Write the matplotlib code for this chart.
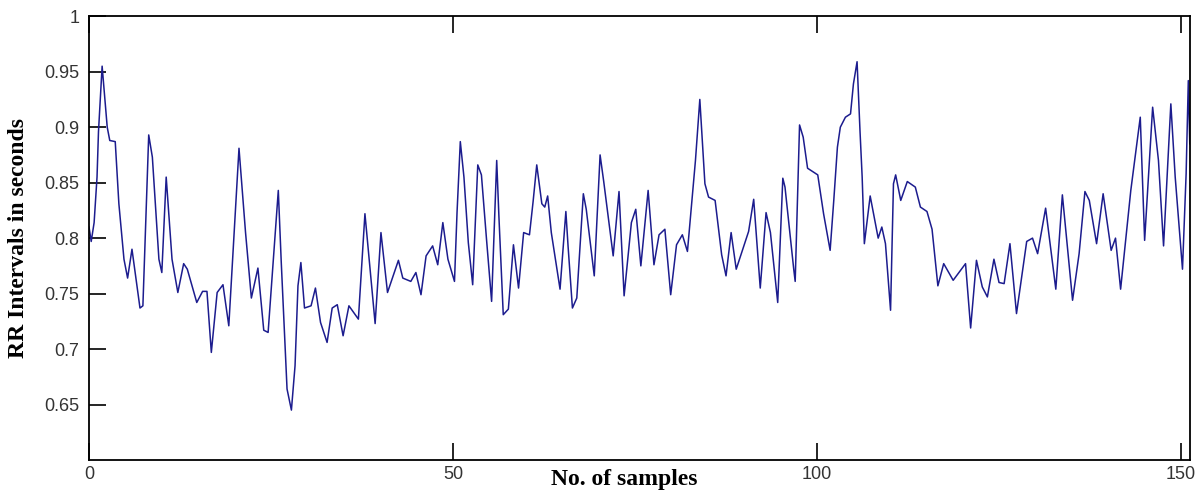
import matplotlib.pyplot as plt

# sample positions and RR interval values (s)
samples = [0, 0.3, 0.7, 1.1, 1.3, 1.8, 2.5, 2.85, 3.6, 4.1, 4.8, 5.3, 5.9, 7.0, 7.4,
           8.2, 8.7, 9.6, 10.0, 10.6, 11.4, 12.2, 13.0, 13.5, 14.8, 15.6, 16.2, 16.8,
           17.6, 18.4, 19.2, 20.6, 21.5, 22.3, 23.2, 24.0, 24.6, 26.0, 26.4, 27.2,
           27.8, 28.3, 28.7, 29.1, 29.6, 30.5, 31.1, 31.8, 32.7, 33.4, 34.1, 34.9,
           35.7, 37.0, 37.9, 38.4, 39.3, 40.1, 41.0, 42.5, 43.1, 44.2, 44.9, 45.6,
           46.3, 47.2, 47.9, 48.6, 49.3, 50.2, 50.55, 51.0, 51.5, 52.1, 52.7, 53.4,
           53.9, 54.6, 55.3, 56.0, 56.3, 56.9, 57.6, 58.3, 59.0, 59.7, 60.5, 61.0,
           61.5, 62.2, 62.6, 63.0, 63.5, 64.7, 65.5, 65.8, 66.4, 67.0, 67.9, 68.3,
           69.4, 70.2, 70.7, 71.6, 72.0, 72.8, 73.5, 74.5, 75.1, 75.8, 76.8, 77.6,
           78.3, 79.1, 79.9, 80.7, 81.5, 82.2, 83.3, 83.9, 84.6, 85.1, 86.0, 86.9,
           87.5, 88.2, 88.9, 90.6, 91.3, 92.2, 93.0, 93.6, 94.6, 95.3, 95.6, 96.8,
           97.0, 97.6, 98.1, 98.7, 100.1, 100.9, 101.8, 102.3, 102.8, 103.2, 103.9,
           104.6, 105.0, 105.5, 105.9, 106.2, 106.5, 107.3, 108.4, 108.9, 109.4,
           110.1, 110.5, 110.8, 111.5, 112.4, 113.5, 114.2, 115.1, 115.8, 116.6,
           117.4, 118.7, 120.4, 121.1, 121.9, 122.7, 123.4, 124.3, 125.0, 125.7,
           126.5, 127.4, 128.8, 129.6, 130.3, 131.4, 132.8, 133.7, 135.1, 136.0,
           136.8, 137.4, 138.4, 139.3, 140.4, 141.0, 141.7, 143.1, 144.4, 145.0,
           146.1, 146.9, 147.6, 148.6, 149.2, 150.2, 150.7, 151.0, 151.2]
rr = [0.81, 0.797, 0.814, 0.855, 0.896, 0.955, 0.90, 0.888, 0.887, 0.831, 0.781, 0.764,
      0.79, 0.737, 0.739, 0.893, 0.873, 0.781, 0.769, 0.855, 0.781, 0.751, 0.777, 0.772,
      0.742, 0.752, 0.752, 0.697, 0.751, 0.758, 0.721, 0.881, 0.805, 0.746, 0.773, 0.717,
      0.715, 0.843, 0.779, 0.664, 0.645, 0.685, 0.757, 0.778, 0.737, 0.739, 0.755, 0.724,
      0.706, 0.737, 0.740, 0.712, 0.739, 0.727, 0.822, 0.787, 0.723, 0.805, 0.751, 0.780,
      0.764, 0.761, 0.769, 0.749, 0.784, 0.793, 0.776, 0.814, 0.781, 0.761, 0.823, 0.887,
      0.855, 0.796, 0.758, 0.866, 0.857, 0.799, 0.743, 0.870, 0.820, 0.731, 0.736, 0.794,
      0.755, 0.805, 0.803, 0.833, 0.866, 0.831, 0.828, 0.838, 0.805, 0.754, 0.824, 0.793,
      0.737, 0.746, 0.840, 0.826, 0.766, 0.875, 0.851, 0.805, 0.784, 0.842, 0.748, 0.814,
      0.826, 0.775, 0.843, 0.776, 0.803, 0.808, 0.749, 0.794, 0.803, 0.788, 0.870, 0.925,
      0.849, 0.837, 0.834, 0.785, 0.766, 0.805, 0.772, 0.806, 0.835, 0.755, 0.823, 0.805,
      0.742, 0.854, 0.846, 0.772, 0.761, 0.902, 0.891, 0.863, 0.857, 0.822, 0.789, 0.834,
      0.882, 0.900, 0.909, 0.912, 0.939, 0.959, 0.897, 0.855, 0.795, 0.838, 0.800, 0.810,
      0.795, 0.735, 0.849, 0.857, 0.834, 0.851, 0.846, 0.828, 0.824, 0.808, 0.757, 0.777,
      0.762, 0.777, 0.719, 0.780, 0.756, 0.747, 0.781, 0.760, 0.759, 0.795, 0.732, 0.797,
      0.800, 0.786, 0.827, 0.754, 0.839, 0.744, 0.786, 0.842, 0.834, 0.795, 0.840, 0.789,
      0.800, 0.754, 0.843, 0.909, 0.798, 0.918, 0.870, 0.793, 0.921, 0.855, 0.772, 0.858,
      0.942, 0.885]

xticks = [0, 50, 100, 150]
yticks = [0.65, 0.7, 0.75, 0.8, 0.85, 0.9, 0.95, 1.0]
ytick_labels = ['0.65', '0.7', '0.75', '0.8', '0.85', '0.9', '0.95', '1']

fig = plt.figure(figsize=(12.03, 4.92), dpi=100)
ax = fig.add_axes([0.074, 0.065, 0.915, 0.902])
ax.plot(samples, rr, color='#1c1c8e', linewidth=1.1)

ax.set_xlim(0, 151.2)
ax.set_ylim(0.6, 1.0)
ax.set_xticks(xticks)
ax.set_xticklabels([str(t) for t in xticks])
ax.set_yticks(yticks)
ax.set_yticklabels(ytick_labels)
ax.tick_params(direction='in', length=12, width=1.2, labelsize=13,
               top=True, right=False, colors='black')
ax.tick_params(axis='x', pad=4)
ax.tick_params(axis='y', pad=7)
for lbl in ax.get_xticklabels() + ax.get_yticklabels():
    lbl.set_family('Liberation Sans')
    lbl.set_color('#333333')
for s in ax.spines.values():
    s.set_linewidth(1.3)

ax.set_xlabel('No. of samples', family='Liberation Serif', fontweight='bold', fontsize=17)
ax.set_ylabel('RR Intervals in seconds', family='Liberation Serif', fontweight='bold', fontsize=17)
ax.xaxis.set_label_coords(0.486, -0.045)
ax.xaxis.label.set_va('center')
ax.yaxis.set_label_coords(-0.064, 0.5)
ax.yaxis.label.set_va('center')

plt.savefig('out.png', dpi=100)
